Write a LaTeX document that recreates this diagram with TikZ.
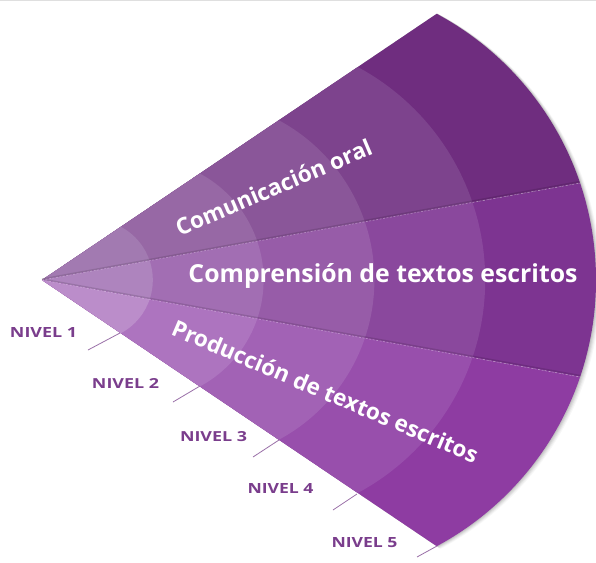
\documentclass[tikz,border=0pt]{standalone}
\usepackage{fontspec}
\usepackage{graphicx}
\newfontfamily\osans{Open Sans}
\definecolor{t1}{HTML}{A27AB1}
\definecolor{t2}{HTML}{9768A5}
\definecolor{t3}{HTML}{8A5699}
\definecolor{t4}{HTML}{7D438D}
\definecolor{t5}{HTML}{6F2D7F}
\definecolor{m1}{HTML}{AE84BE}
\definecolor{m2}{HTML}{A26EB3}
\definecolor{m3}{HTML}{975CA8}
\definecolor{m4}{HTML}{8A489D}
\definecolor{m5}{HTML}{7D3491}
\definecolor{b1}{HTML}{BB8DCA}
\definecolor{b2}{HTML}{AD74BF}
\definecolor{b3}{HTML}{A262B5}
\definecolor{b4}{HTML}{984FAC}
\definecolor{b5}{HTML}{8E3CA2}
\definecolor{lvltext}{HTML}{7A3D8C}
\definecolor{tickcol}{HTML}{9A70A8}
\tikzset{
  lvl/.style={text=lvltext, inner sep=0pt},
  areatext/.style={text=white, inner sep=0pt, anchor=base},
  tickline/.style={draw=tickcol, line width=0.8pt},
  seamlight/.style={draw=white, opacity=0.35, line width=0.6pt, dash pattern=on 2pt off 1.5pt},
  seamdark/.style={draw=black, opacity=0.12, line width=1.4pt}
}
\newcommand\ringfill[6]{%
  \begin{scope}
    \clip #1;
    \fill[#2] (294,280) circle[radius=302pt];
    \fill[#3] (243.6,280) circle[radius=241.6pt];
    \fill[#4] (193.2,280) circle[radius=181.2pt];
    \fill[#5] (142.8,280) circle[radius=120.8pt];
    \fill[#6] (92.4,280) circle[radius=60.4pt];
  \end{scope}}
\begin{document}
\begin{tikzpicture}[x=1pt,y=-1pt]
\useasboundingbox (0,0) rectangle (596,562);
\fill[white] (0,0) rectangle (596,562);
\draw[gray!25, line width=1pt] (0,0.5) -- (596,0.5);

\coordinate (O) at (42,280);
\coordinate (TT) at (622.3,-111.4);
\coordinate (TM) at (730.9,156.0);
\coordinate (BM) at (730.9,404.0);
\coordinate (BB) at (622.3,671.4);

% soft shadow
\foreach \s/\o in {5/0.03,4/0.04,3/0.05,2/0.06,1/0.07} {
  \begin{scope}[shift={(\s,0.4*\s)}]
    \clip (O) -- (TT) -- (BB) -- cycle;
    \fill[black, opacity=\o] (294,280) circle[radius=302pt];
  \end{scope}
}

% sectors
\ringfill{(O) -- (TT) -- (TM) -- cycle}{t5}{t4}{t3}{t2}{t1}
\ringfill{(O) -- (TM) -- (BM) -- cycle}{m5}{m4}{m3}{m2}{m1}
\ringfill{(O) -- (BM) -- (BB) -- cycle}{b5}{b4}{b3}{b2}{b1}

% seams
\coordinate (S1) at (580,183);
\coordinate (S2) at (580,377);
\coordinate (Oa) at (42,279);
\coordinate (S1a) at (580,181.5);
\coordinate (S2a) at (580,375.5);
\draw[seamdark] (Oa) -- (S1a);
\draw[seamdark] (Oa) -- (S2a);
\draw[seamlight] (O) -- (S1);
\draw[seamlight] (O) -- (S2);

% area labels
\node[areatext, rotate=23] (comm) at (277,195) {\resizebox{211pt}{!}{\osans\bfseries Comunicación oral}};
\node[areatext] (comp) at (383,282) {\resizebox{389pt}{!}{\osans\bfseries Comprensión de textos escritos}};
\node[areatext, rotate=-23] (prod) at (322,399) {\resizebox{330pt}{!}{\osans\bfseries Producción de textos escritos}};

% level labels
\node[lvl] (n1) at (43.5,332) {\resizebox{67pt}{10pt}{\osans\bfseries NIVEL 1}};
\node[lvl] (n2) at (125.5,383) {\resizebox{67pt}{10pt}{\osans\bfseries NIVEL 2}};
\node[lvl] (n3) at (213.5,437) {\resizebox{67pt}{10pt}{\osans\bfseries NIVEL 3}};
\node[lvl] (n4) at (280.5,488) {\resizebox{66pt}{10pt}{\osans\bfseries NIVEL 4}};
\node[lvl] (n5) at (364.5,543) {\resizebox{66pt}{10pt}{\osans\bfseries NIVEL 5}};

% ticks
\coordinate (s1) at (88,350);  \coordinate (e1) at (120,333);
\coordinate (s2) at (173,402); \coordinate (e2) at (200,386);
\coordinate (s3) at (253,457); \coordinate (e3) at (279,440);
\coordinate (s4) at (333,510); \coordinate (e4) at (357,494);
\coordinate (s5) at (417,557); \coordinate (e5) at (437,546);
\foreach \i in {1,...,5} { \draw[tickline] (s\i) -- (e\i); }
\end{tikzpicture}
\end{document}
